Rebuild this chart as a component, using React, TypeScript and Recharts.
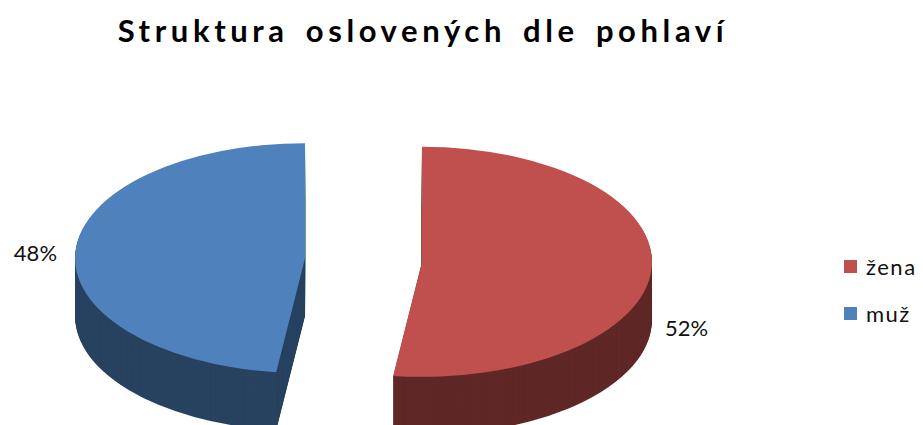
import { PieChart, Pie, Cell } from 'recharts';

const categories = ['žena', 'muž'];
const shares = [52, 48];
const topColors = ['#C0504D', '#4F81BD'];
const sideColors = ['#5F2827', '#284360'];

const title = 'Struktura oslovených dle pohlaví';

const data = categories.map((name, i) => ({ name, value: shares[i] }));

// the chart is drawn twice as tall, then squashed to get the tilted look
const SQUASH = 0.5;
const W = 923;
const H = 425 / SQUASH;
const CX = 363.5;
const CY = 520;
const R = 230;
const EXPLODE = 58.6;
const DEPTH = 116;
const START = 90;
const END = -270;
const RAD = Math.PI / 180;

const total = shares.reduce((a, b) => a + b, 0);
let acc = 0;
const midAngles = shares.map((v) => {
  const m = START + ((END - START) * (acc + v / 2)) / total;
  acc += v;
  return m;
});
const centers = midAngles.map((m) => ({
  x: CX + EXPLODE * Math.cos(-m * RAD),
  y: CY + EXPLODE * Math.sin(-m * RAD),
}));

const layers: number[] = [];
for (let d = DEPTH; d > 0; d -= 2) layers.push(d);

const labelDrop = [132, -12];

const makeLabel = (slice: number) => (props: any) => {
  const { cx, cy, outerRadius, midAngle, percent, index } = props;
  if (index !== slice) return null;
  const right = Math.cos(-midAngle * RAD) > 0;
  const x = cx + (right ? 1 : -1) * (outerRadius + (right ? 13 : 18));
  const y = cy + labelDrop[slice];
  return (
    <text
      transform={`translate(${x}, ${y}) scale(1, ${1 / SQUASH})`}
      textAnchor={right ? 'start' : 'end'}
      dominantBaseline="central"
      fontFamily="Lato, sans-serif"
      fontSize={22}
      fill="#111"
    >
      {`${Math.round(percent * 100)}%`}
    </text>
  );
};

export default function App() {
  return (
    <div
      style={{
        position: 'absolute',
        left: 0,
        top: 0,
        width: W,
        height: 425,
        overflow: 'hidden',
        background: '#fff',
        fontFamily: 'Lato, sans-serif',
      }}
    >
      <div
        style={{
          position: 'absolute',
          top: 15,
          left: 0,
          width: 846,
          textAlign: 'center',
          fontSize: 31,
          lineHeight: '30px',
          fontWeight: 700,
          letterSpacing: 4.6,
          wordSpacing: 5,
          color: '#000',
        }}
      >
        {title}
      </div>

      <div
        style={{
          position: 'absolute',
          left: 0,
          top: 0,
          width: W,
          height: H,
          transform: `scaleY(${SQUASH})`,
          transformOrigin: '0 0',
        }}
      >
        <PieChart width={W} height={H} margin={{ top: 0, right: 0, bottom: 0, left: 0 }}>
          {categories.map((_, s) =>
            layers.map((d) => (
              <Pie
                key={`side-${s}-${d}`}
                data={data}
                dataKey="value"
                nameKey="name"
                cx={centers[s].x}
                cy={centers[s].y + d}
                outerRadius={R}
                startAngle={START}
                endAngle={END}
                stroke="none"
                isAnimationActive={false}
              >
                {data.map((_, j) => (
                  <Cell key={j} fill={j === s ? sideColors[s] : 'transparent'} stroke="none" />
                ))}
              </Pie>
            ))
          )}
          {categories.map((_, s) => (
            <Pie
              key={`top-${s}`}
              data={data}
              dataKey="value"
              nameKey="name"
              cx={centers[s].x}
              cy={centers[s].y}
              outerRadius={R}
              startAngle={START}
              endAngle={END}
              stroke="none"
              labelLine={false}
              label={makeLabel(s)}
              isAnimationActive={false}
            >
              {data.map((_, j) => (
                <Cell key={j} fill={j === s ? topColors[s] : 'transparent'} stroke="none" />
              ))}
            </Pie>
          ))}
        </PieChart>
      </div>

      <div style={{ position: 'absolute', left: 844, top: 253 }}>
        {categories.map((name, i) => (
          <div
            key={name}
            style={{ display: 'flex', alignItems: 'center', height: 26, marginBottom: 21 }}
          >
            <span
              style={{ width: 13, height: 13, background: topColors[i], display: 'inline-block' }}
            />
            <span style={{ marginLeft: 9, fontSize: 22, letterSpacing: 1.5, color: '#111' }}>
              {name}
            </span>
          </div>
        ))}
      </div>
    </div>
  );
}
